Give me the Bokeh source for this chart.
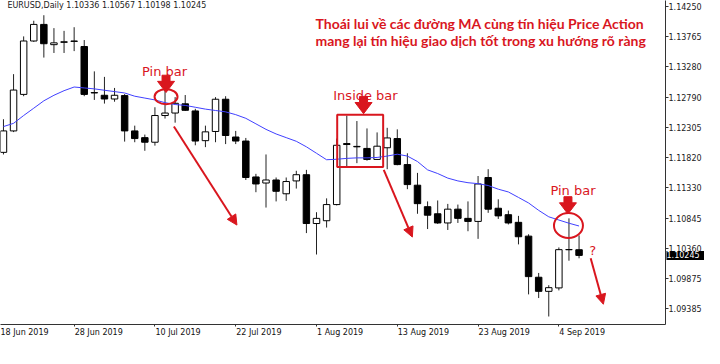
import numpy as np
from bokeh.plotting import figure
from bokeh.models import Range1d, FixedTicker, PrintfTickFormatter, Label, Arrow, NormalHead
from bokeh.embed import file_html
from bokeh.resources import INLINE

# ---------------- data ----------------
opens = [1.11904, 1.12249, 1.12837, 1.13697, 1.13964, 1.13638, 1.13675, 1.13690, 1.13608, 1.12860,
         1.12823, 1.12763, 1.12818, 1.12249, 1.12141, 1.12067, 1.12497, 1.12537, 1.12685, 1.12571,
         1.12092, 1.12240, 1.12759, 1.12151, 1.12086, 1.11508, 1.11410, 1.11459, 1.11237, 1.11444,
         1.11544, 1.10758, 1.10803, 1.11063, 1.12045, 1.12000, 1.11967, 1.11790, 1.11978, 1.12126,
         1.11707, 1.11375, 1.11029, 1.10915, 1.10767, 1.10989, 1.10841, 1.10792, 1.11499, 1.11004,
         1.10900, 1.10777, 1.10555, 1.09893, 1.09666, 1.09721, 1.10336, 1.10336]
highs = [1.12437, 1.13163, 1.13771, 1.14023, 1.14112, 1.13904, 1.13860, 1.13919, 1.13712, 1.13208,
         1.13119, 1.12941, 1.12842, 1.12334, 1.12190, 1.12630, 1.12912, 1.12793, 1.12827, 1.12605,
         1.12334, 1.12793, 1.12808, 1.12249, 1.12136, 1.11558, 1.11870, 1.11499, 1.11499, 1.11607,
         1.11622, 1.10940, 1.11163, 1.12126, 1.12497, 1.12408, 1.12289, 1.12225, 1.12299, 1.12274,
         1.11889, 1.11573, 1.11114, 1.11129, 1.11074, 1.11063, 1.11114, 1.11523, 1.11633, 1.11148,
         1.10966, 1.10881, 1.10585, 1.09962, 1.09765, 1.10373, 1.10841, 1.10567]
lows = [1.11870, 1.12230, 1.12808, 1.13682, 1.13430, 1.13504, 1.13504, 1.13534, 1.12808, 1.12748,
        1.12689, 1.12719, 1.12077, 1.12067, 1.11929, 1.12012, 1.12448, 1.12382, 1.12571, 1.12018,
        1.11988, 1.12067, 1.12037, 1.12037, 1.11459, 1.11262, 1.11015, 1.11114, 1.11123, 1.11321,
        1.10604, 1.10259, 1.10693, 1.11049, 1.11681, 1.11730, 1.11770, 1.11781, 1.11633, 1.11696,
        1.11311, 1.10915, 1.10669, 1.10752, 1.10654, 1.10767, 1.10634, 1.10511, 1.10930, 1.10832,
        1.10743, 1.10422, 1.09617, 1.09558, 1.09261, 1.09681, 1.10159, 1.10198]
closes = [1.12249, 1.12907, 1.13697, 1.13964, 1.13653, 1.13667, 1.13685, 1.13697, 1.12837, 1.12867,
          1.12763, 1.12823, 1.12249, 1.12126, 1.12067, 1.12497, 1.12537, 1.12694, 1.12581, 1.12086,
          1.12234, 1.12759, 1.12175, 1.12086, 1.11499, 1.11395, 1.11459, 1.11277, 1.11434, 1.11544,
          1.10758, 1.10841, 1.11063, 1.12018, 1.12030, 1.11993, 1.11790, 1.12003, 1.12136, 1.11707,
          1.11385, 1.11078, 1.10892, 1.10767, 1.10989, 1.10841, 1.10792, 1.11395, 1.10989, 1.10881,
          1.10767, 1.10545, 1.09903, 1.09666, 1.09725, 1.10337, 1.10339, 1.10245]
ma_values = [1.12319, 1.12371, 1.12497, 1.12615, 1.12734, 1.12823, 1.12897, 1.12956, 1.12941, 1.12926,
             1.12904, 1.12882, 1.12860, 1.12808, 1.12778, 1.12748, 1.12704, 1.12674, 1.12660, 1.12630,
             1.12600, 1.12578, 1.12556, 1.12511, 1.12452, 1.12363, 1.12274, 1.12200, 1.12141, 1.12082,
             1.11993, 1.11889, 1.11785, 1.11793, 1.11807, 1.11815, 1.11815, 1.11822, 1.11844, 1.11874,
             1.11844, 1.11756, 1.11622, 1.11563, 1.11489, 1.11444, 1.11415, 1.11400, 1.11370, 1.11311,
             1.11266, 1.11178, 1.11089, 1.10970, 1.10866, 1.10814, 1.10763, 1.10718]

price_ticks = [1.14250, 1.13765, 1.13280, 1.12790, 1.12305, 1.11820, 1.11330,
               1.10845, 1.10360, 1.09875, 1.09385]
date_tick_idx = [-1, 7, 15, 23, 31, 39, 47, 55]
date_tick_labels = ["18 Jun 2019", "28 Jun 2019", "10 Jul 2019", "22 Jul 2019",
                    "1 Aug 2019", "13 Aug 2019", "23 Aug 2019", "4 Sep 2019"]
last_price = 1.10245
header_text = "EURUSD,Daily 1.10336 1.10567 1.10198 1.10245"
title_lines = ["Thoái lui về các đường MA cùng tín hiệu Price Action",
               "mang lại tín hiệu giao dịch tốt trong xu hướng rõ ràng"]

# ---------------- figure ----------------
X0, X1 = -0.293, 65.56
Y0, Y1 = 1.09132, 1.14349
FW, FH = 665, 318
RED = "#d9161e"

p = figure(width=704, height=348, output_backend="svg", toolbar_location=None,
           x_range=Range1d(X0, X1), y_range=Range1d(Y0, Y1), y_axis_location="right",
           min_border_left=0, min_border_top=0, min_border_right=0, min_border_bottom=0)
p.grid.visible = False
p.outline_line_color = None
p.background_fill_color = "white"
p.border_fill_color = "white"

ya = p.yaxis[0]
ya.ticker = FixedTicker(ticks=price_ticks)
ya.formatter = PrintfTickFormatter(format="%.5f")
ya.major_tick_out = 3
ya.major_tick_in = 0
ya.minor_tick_line_color = None
ya.major_label_standoff = 0
ya.major_label_text_font = "DejaVu Sans"
ya.major_label_text_font_size = "8px"
ya.major_label_text_color = "#222222"
ya.axis_line_color = "#333333"
ya.major_tick_line_color = "#333333"

# date labels start at their tick (MT4 style): label centres half a label width to the right
CW = {"0": .636, "1": .636, "2": .636, "3": .636, "4": .636, "5": .636, "6": .636, "7": .636,
      "8": .636, "9": .636, " ": .318, "J": .295, "u": .634, "n": .634, "l": .278, "A": .684,
      "g": .635, "S": .635, "e": .615, "p": .635}
px_per_idx = FW / (X1 - X0)
centres = [round(xi + (sum(CW.get(ch, .6) for ch in t) * 8 / 2 + 0.5) / px_per_idx, 3)
           for xi, t in zip(date_tick_idx, date_tick_labels)]

xa = p.xaxis[0]
xa.ticker = FixedTicker(ticks=centres, minor_ticks=date_tick_idx)
xa.major_label_overrides = {c: t for c, t in zip(centres, date_tick_labels)}
xa.major_tick_line_color = None
xa.major_tick_out = 0
xa.major_tick_in = 0
xa.minor_tick_out = 2
xa.minor_tick_in = 0
xa.minor_tick_line_color = "#333333"
xa.major_label_standoff = 1
xa.major_label_text_font = "DejaVu Sans"
xa.major_label_text_font_size = "8px"
xa.major_label_text_color = "#111111"
xa.axis_line_color = "#333333"

# ---------------- candles ----------------
idx = np.arange(len(opens))
o, h, l, c = (np.array(a) for a in (opens, highs, lows, closes))
up = c >= o
p.segment(idx, h, idx, l, line_color="#222222", line_width=1)
p.vbar(x=idx[up], top=c[up], bottom=o[up], width=0.64, fill_color="white", line_color="black", line_width=1)
p.vbar(x=idx[~up], top=o[~up], bottom=c[~up], width=0.64, fill_color="black", line_color="black", line_width=1)

# moving average
p.line(idx, ma_values, line_color="#4040ff", line_width=1)

# ---------------- annotations ----------------
dxp = (X1 - X0) / FW
dyp = (Y1 - Y0) / FH


def down_arrow(xi, yp):
    pts = [(0, 0), (-8.5, 11), (-4, 11), (-4, 17), (4, 17), (4, 11), (8.5, 11)]
    p.patch([xi + a * dxp for a, b in pts], [yp + b * dyp for a, b in pts],
            fill_color=RED, line_color=RED)


def tag(x, y, text, size="13px", font="DejaVu Sans", style="normal", align="center", color=RED):
    p.add_layout(Label(x=x, y=y, text=text, text_font=font, text_font_size=size,
                       text_font_style=style, text_color=color, text_align=align,
                       text_baseline="middle"))


tag(0.39, 1.14275, header_text, size="8px", align="left", color="#222222")
tag(30.9, 1.13979, title_lines[0], size="14px", font="Lato", style="bold", align="left")
tag(30.9, 1.13712, title_lines[1], size="14px", font="Lato", style="bold", align="left")

tag(15.95, 1.13208, "Pin bar")
down_arrow(16.1, 1.12867)
p.ellipse(x=[16.1], y=[1.12800], width=23, height=15, width_units="screen", height_units="screen",
          fill_color=None, line_color=RED, line_width=2)
p.add_layout(Arrow(end=NormalHead(size=10, fill_color=RED, line_color=RED),
                   x_start=16.88, y_start=1.12319, x_end=23.12, y_end=1.10733,
                   line_color=RED, line_width=2))

tag(35.85, 1.12823, "Inside bar")
down_arrow(35.66, 1.12526)
p.quad(left=[33.05], right=[37.6], top=[1.12511], bottom=[1.11667],
       fill_color=None, line_color=RED, line_width=2)
p.add_layout(Arrow(end=NormalHead(size=10, fill_color=RED, line_color=RED),
                   x_start=37.66, y_start=1.11622, x_end=40.49, y_end=1.10540,
                   line_color=RED, line_width=2))

tag(56.4, 1.11296, "Pin bar")
down_arrow(55.9, 1.10911)
p.ellipse(x=[55.95], y=[1.10726], width=29, height=25, width_units="screen", height_units="screen",
          fill_color=None, line_color=RED, line_width=2)
tag(58.34, 1.10322, "?")
p.add_layout(Arrow(end=NormalHead(size=10, fill_color=RED, line_color=RED),
                   x_start=58.15, y_start=1.10199, x_end=59.41, y_end=1.09458,
                   line_color=RED, line_width=2))

# current-price box beside the price axis (side panel, so it is not clipped to the frame)
p.add_layout(Label(x=X1, y=last_price, x_offset=1, text=f" {last_price:.5f}   ", text_font="DejaVu Sans",
                   text_font_size="8px", text_line_height=1.0, text_color="white", text_align="left",
                   text_baseline="middle", background_fill_color="black"), "below")

open("out.html", "w").write(file_html(p, INLINE))
